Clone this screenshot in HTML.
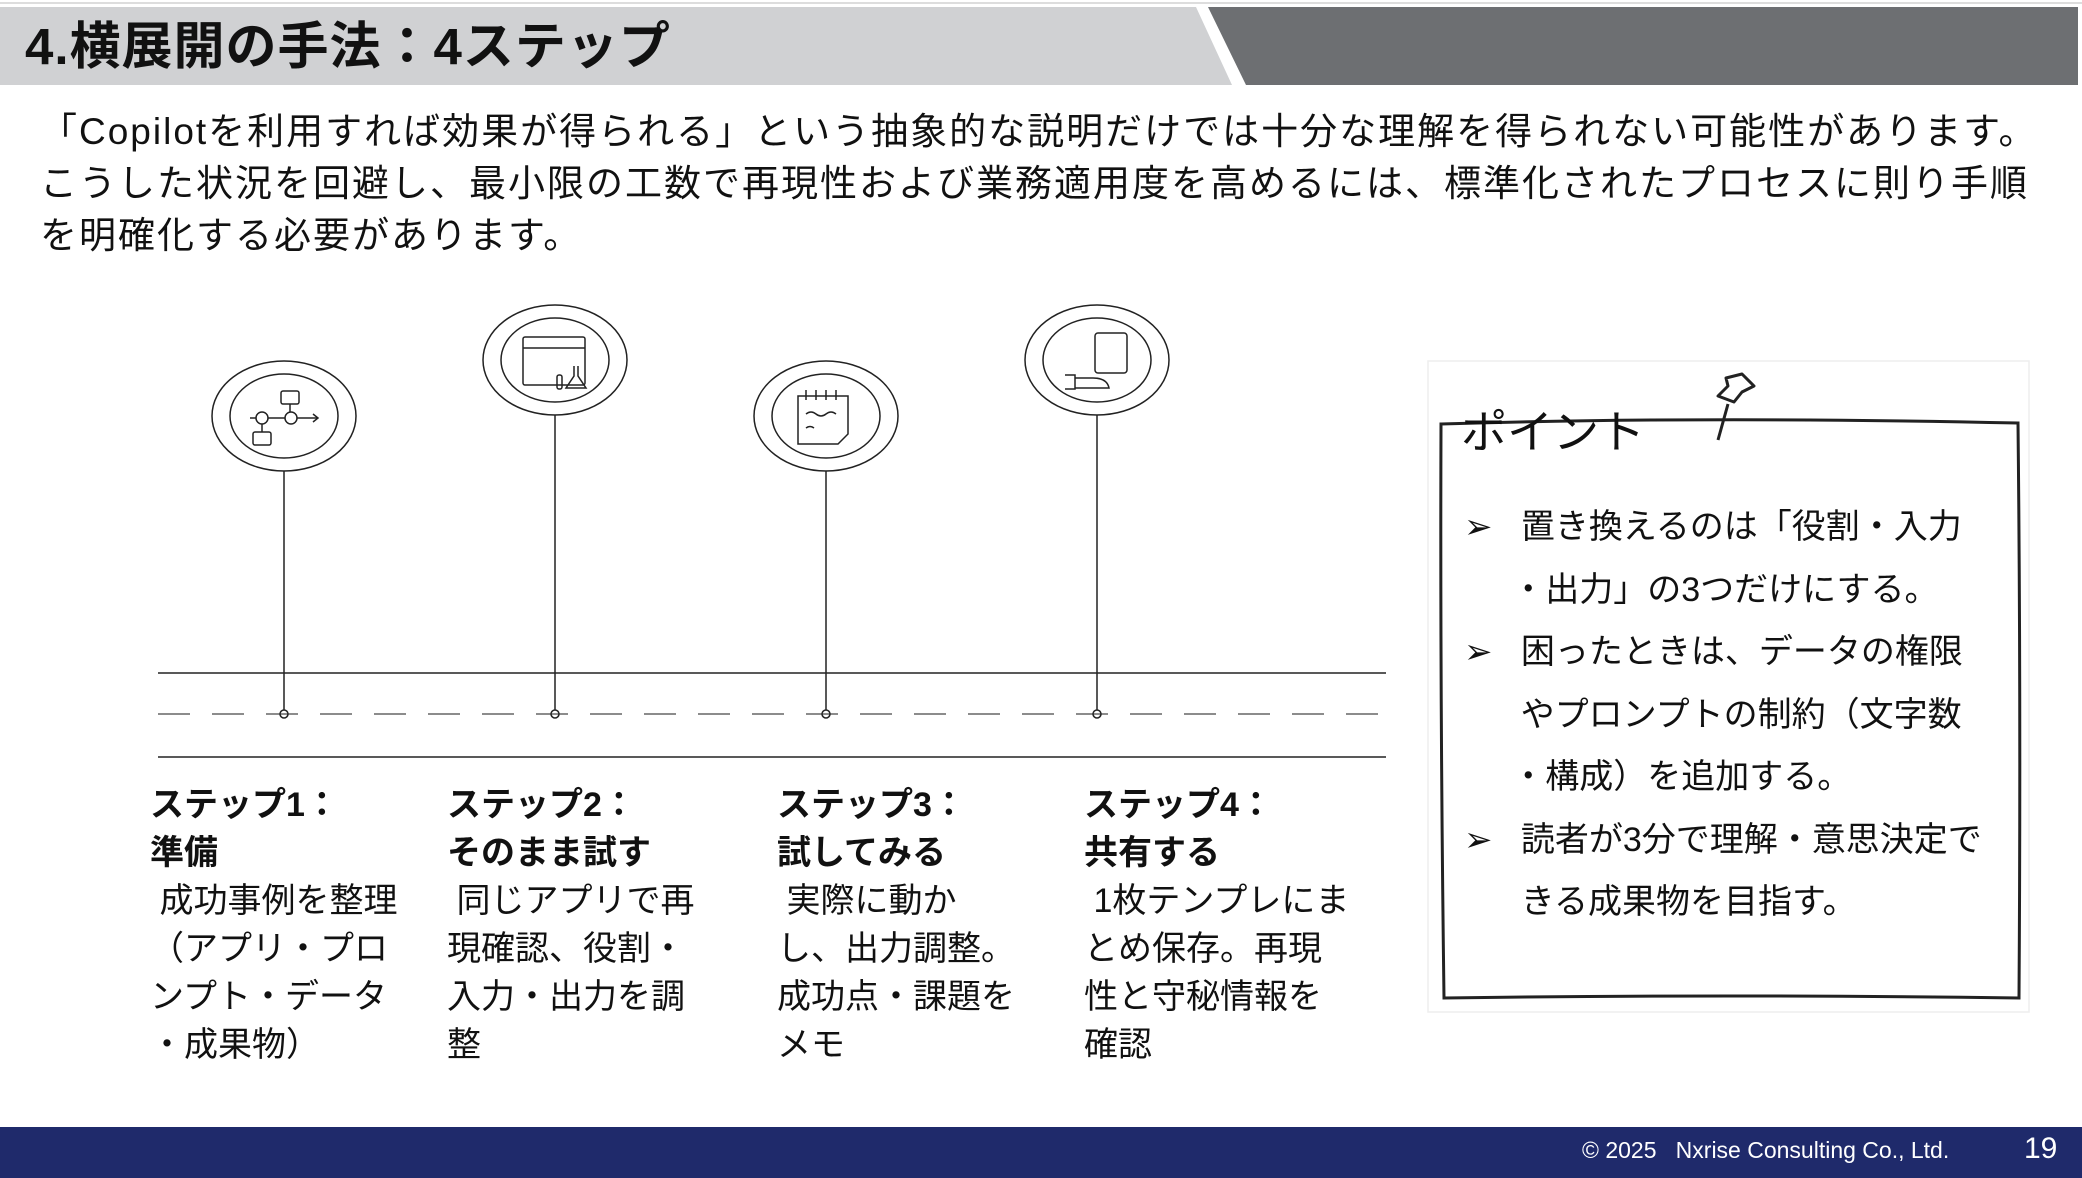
<!DOCTYPE html>
<html><head><meta charset="utf-8"><style>
*{margin:0;padding:0;box-sizing:border-box}
body{width:2082px;height:1178px;background:#fff;position:relative;overflow:hidden;font-family:"Liberation Sans","Noto Sans CJK JP",sans-serif;color:#111}
.abs{position:absolute;white-space:nowrap}
.body{left:40px;top:106px;font-size:37px;line-height:52px;letter-spacing:2px}
.step{font-size:34px;line-height:48px;top:781px}
.step b{font-weight:700}
.pt{font-size:34px;line-height:62.5px;left:1464px;top:496px}
</style></head><body>
<svg class="abs" style="left:0;top:0" width="2082" height="1178">
 <line x1="0" y1="3" x2="2082" y2="3" stroke="#ddd" stroke-width="2"/>
 <polygon points="0,7 1196,7 1232,85 0,85" fill="#d0d1d3"/>
 <polygon points="1208,7 2078,7 2078,85 1246,85" fill="#6d6f72"/>
 <line x1="158" y1="673" x2="1386" y2="673" stroke="#222" stroke-width="1.5"/>
 <line x1="158" y1="714" x2="1386" y2="714" stroke="#666" stroke-width="1.5" stroke-dasharray="32,22"/>
 <line x1="158" y1="757" x2="1386" y2="757" stroke="#222" stroke-width="1.5"/>
 <g fill="none" stroke="#222" stroke-width="1.5">
  <ellipse cx="284" cy="416" rx="72" ry="55"/><ellipse cx="284" cy="416" rx="54" ry="42"/>
  <line x1="284" y1="471" x2="284" y2="710"/><circle cx="284" cy="714" r="4"/>
  <ellipse cx="555" cy="360" rx="72" ry="55"/><ellipse cx="555" cy="360" rx="54" ry="42"/>
  <line x1="555" y1="415" x2="555" y2="710"/><circle cx="555" cy="714" r="4"/>
  <ellipse cx="826" cy="416" rx="72" ry="55"/><ellipse cx="826" cy="416" rx="54" ry="42"/>
  <line x1="826" y1="471" x2="826" y2="710"/><circle cx="826" cy="714" r="4"/>
  <ellipse cx="1097" cy="360" rx="72" ry="55"/><ellipse cx="1097" cy="360" rx="54" ry="42"/>
  <line x1="1097" y1="415" x2="1097" y2="710"/><circle cx="1097" cy="714" r="4"/>
  <rect x="281" y="391" width="18" height="13" rx="2"/><circle cx="262" cy="418" r="6"/><circle cx="291" cy="418" r="6"/>
  <line x1="250" y1="418" x2="256" y2="418"/><line x1="268" y1="418" x2="285" y2="418"/><line x1="297" y1="418" x2="318" y2="418"/>
  <polyline points="313,414 318,418 313,422"/><line x1="290" y1="404" x2="290" y2="412"/><line x1="262" y1="424" x2="262" y2="432"/>
  <rect x="253" y="432" width="18" height="13" rx="2"/>
  <rect x="523" y="337" width="62" height="48" rx="2"/><line x1="523" y1="348" x2="585" y2="348"/>
  <path d="M574 366 v10 l-8 12 h20 l-8 -12 v-10"/><rect x="557" y="375" width="5" height="14" rx="2"/>
  <path d="M798 396 h50 v38 l-10 10 h-40 z"/><path d="M806 390 v10 M816 390 v10 M826 390 v10 M836 390 v10"/>
  <path d="M806 414 q5 -4 10 0 t10 0 t10 0 M806 428 q4 -3 8 0"/>
  <rect x="1095" y="333" width="32" height="40" rx="3"/>
  <path d="M1065 375 h10 v14 h-10 M1075 378 h18 q14 0 16 10 h-34"/>
 </g>
 <rect x="1428" y="361" width="601" height="651" fill="none" stroke="#eee" stroke-width="1.5"/>
 <path d="M1441 424 Q1700 416 2018 423 Q2021 700 2019 998 Q1730 994 1444 998 Q1440 700 1441 424 Z" fill="#fff" stroke="#222" stroke-width="3"/>
 <g fill="#fff" stroke="#222" stroke-width="3" stroke-linejoin="round">
  <path d="M1718 396 l10 -10 l-2 -8 l16 -4 l12 12 l-12 6 l-8 10 z"/><line x1="1728" y1="404" x2="1718" y2="440"/>
 </g>
 <rect x="0" y="1127" width="2082" height="51" fill="#1f2a6b"/>
</svg>
<div class="abs" style="left:25px;top:15px;font-size:51px;font-weight:700;line-height:64px;letter-spacing:1px">4.横展開の手法：4ステップ</div>
<div class="abs body">「Copilotを利用すれば効果が得られる」という抽象的な説明だけでは十分な理解を得られない可能性があります。<br>こうした状況を回避し、最小限の工数で再現性および業務適用度を高めるには、標準化されたプロセスに則り手順<br>を明確化する必要があります。</div>
<div class="abs step" style="left:150px"><b>ステップ1：</b><br><b>準備</b><br>&nbsp;成功事例を整理<br>（アプリ・プロ<br>ンプト・データ<br>・成果物）</div>
<div class="abs step" style="left:447px"><b>ステップ2：</b><br><b>そのまま試す</b><br>&nbsp;同じアプリで再<br>現確認、役割・<br>入力・出力を調<br>整</div>
<div class="abs step" style="left:777px"><b>ステップ3：</b><br><b>試してみる</b><br>&nbsp;実際に動か<br>し、出力調整。<br>成功点・課題を<br>メモ</div>
<div class="abs step" style="left:1084px"><b>ステップ4：</b><br><b>共有する</b><br>&nbsp;1枚テンプレにま<br>とめ保存。再現<br>性と守秘情報を<br>確認</div>
<div class="abs" style="left:1461px;top:404px;font-size:46px;line-height:56px">ポイント</div>
<div class="abs pt">➢&nbsp;&nbsp;&nbsp;置き換えるのは「役割・入力<br>&nbsp;&nbsp;&nbsp;&nbsp;&nbsp;・出力」の3つだけにする。<br>➢&nbsp;&nbsp;&nbsp;困ったときは、データの権限<br>&nbsp;&nbsp;&nbsp;&nbsp;&nbsp;&nbsp;やプロンプトの制約（文字数<br>&nbsp;&nbsp;&nbsp;&nbsp;&nbsp;・構成）を追加する。<br>➢&nbsp;&nbsp;&nbsp;読者が3分で理解・意思決定で<br>&nbsp;&nbsp;&nbsp;&nbsp;&nbsp;&nbsp;きる成果物を目指す。</div>
<div class="abs" style="left:1582px;top:1137px;font-size:23px;color:#fff">© 2025&nbsp;&nbsp;&nbsp;Nxrise Consulting Co., Ltd.</div>
<div class="abs" style="left:2024px;top:1132px;font-size:30px;color:#fff">19</div>
</body></html>
